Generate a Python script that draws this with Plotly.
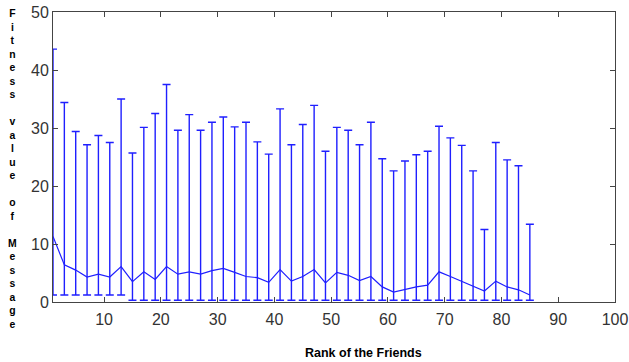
import plotly.graph_objects as go

# Rank of each friend (odd ranks only)
rank = list(range(1, 86, 2))

# Mean fitness value of the message at each rank
mean_fit = [11.3, 6.4, 5.5, 4.3, 4.8, 4.3, 6.1, 3.5, 5.2, 3.9,
            6.1, 4.8, 5.2, 4.8, 5.4, 5.8, 5.1, 4.4, 4.2, 3.4,
            5.6, 3.6, 4.4, 5.6, 3.3, 5.1, 4.6, 3.7, 4.4, 2.6,
            1.7, 2.2, 2.6, 2.9, 5.2, 4.4, 3.6, 2.8, 1.9, 3.6,
            2.6, 2.1, 1.2]

# Highest fitness value observed at each rank
max_fit = [43.6, 34.4, 29.4, 27.1, 28.7, 27.5, 35.0, 25.7, 30.1, 32.5,
           37.5, 29.6, 32.3, 29.6, 31.0, 31.9, 30.2, 31.0, 27.6, 25.5,
           33.3, 27.1, 30.6, 33.9, 26.0, 30.1, 29.6, 27.1, 31.0, 24.7,
           22.6, 24.3, 25.4, 26.0, 30.3, 28.3, 27.0, 22.6, 12.5, 27.5,
           24.5, 23.5, 13.4]

# Lowest fitness value observed at each rank
min_fit = [1.2] * 7 + [0.3] * 36

err_plus = [hi - m for hi, m in zip(max_fit, mean_fit)]
err_minus = [m - lo for lo, m in zip(min_fit, mean_fit)]

x_ticks = list(range(10, 101, 10))
y_ticks = list(range(0, 51, 10))

blue = "#1f1fff"
axis_col = "#444444"
tick_font = dict(family="Liberation Sans, Arial, sans-serif", size=16, color="#333333")

fig = go.Figure()
fig.add_trace(go.Scatter(
    x=rank, y=mean_fit, mode="lines",
    line=dict(color=blue, width=1.2),
    error_y=dict(type="data", symmetric=False, array=err_plus, arrayminus=err_minus,
                 color=blue, thickness=1.4, width=4),
    showlegend=False,
))

ylabel = "Fitness value of Message"
ylabel_html = "<br>".join(ch if ch != " " else "\u00a0" for ch in ylabel)

fig.update_layout(
    width=629, height=362,
    margin=dict(l=53, r=14, t=12, b=60),
    paper_bgcolor="white", plot_bgcolor="white",
    xaxis=dict(range=[1, 100], tickvals=x_ticks, ticks="inside", ticklen=5,
               tickcolor=axis_col, showline=True, linecolor=axis_col, linewidth=1,
               mirror="ticks", showgrid=False, zeroline=False, tickfont=tick_font,
               ticklabelstandoff=3, automargin=False),
    yaxis=dict(range=[0, 50], tickvals=y_ticks, ticks="inside", ticklen=5,
               tickcolor=axis_col, showline=True, linecolor=axis_col, linewidth=1,
               mirror="ticks", showgrid=False, zeroline=False, tickfont=tick_font,
               automargin=False),
    annotations=[
        dict(text="<b>Rank of the Friends</b>", xref="paper", yref="paper",
             x=0.5525, y=-0.176, xanchor="center", yanchor="middle", showarrow=False,
             font=dict(family="Liberation Sans, Arial, sans-serif", size=12.5, color="black")),
        dict(text="<b>" + ylabel_html + "</b>", xref="paper", yref="paper",
             x=(12 - 53) / 562, y=(302 - 6) / 290, xanchor="center", yanchor="top",
             showarrow=False, align="center",
             font=dict(family="Liberation Sans, Arial, sans-serif", size=10.4, color="black")),
    ],
)

fig.write_html("out.html")
